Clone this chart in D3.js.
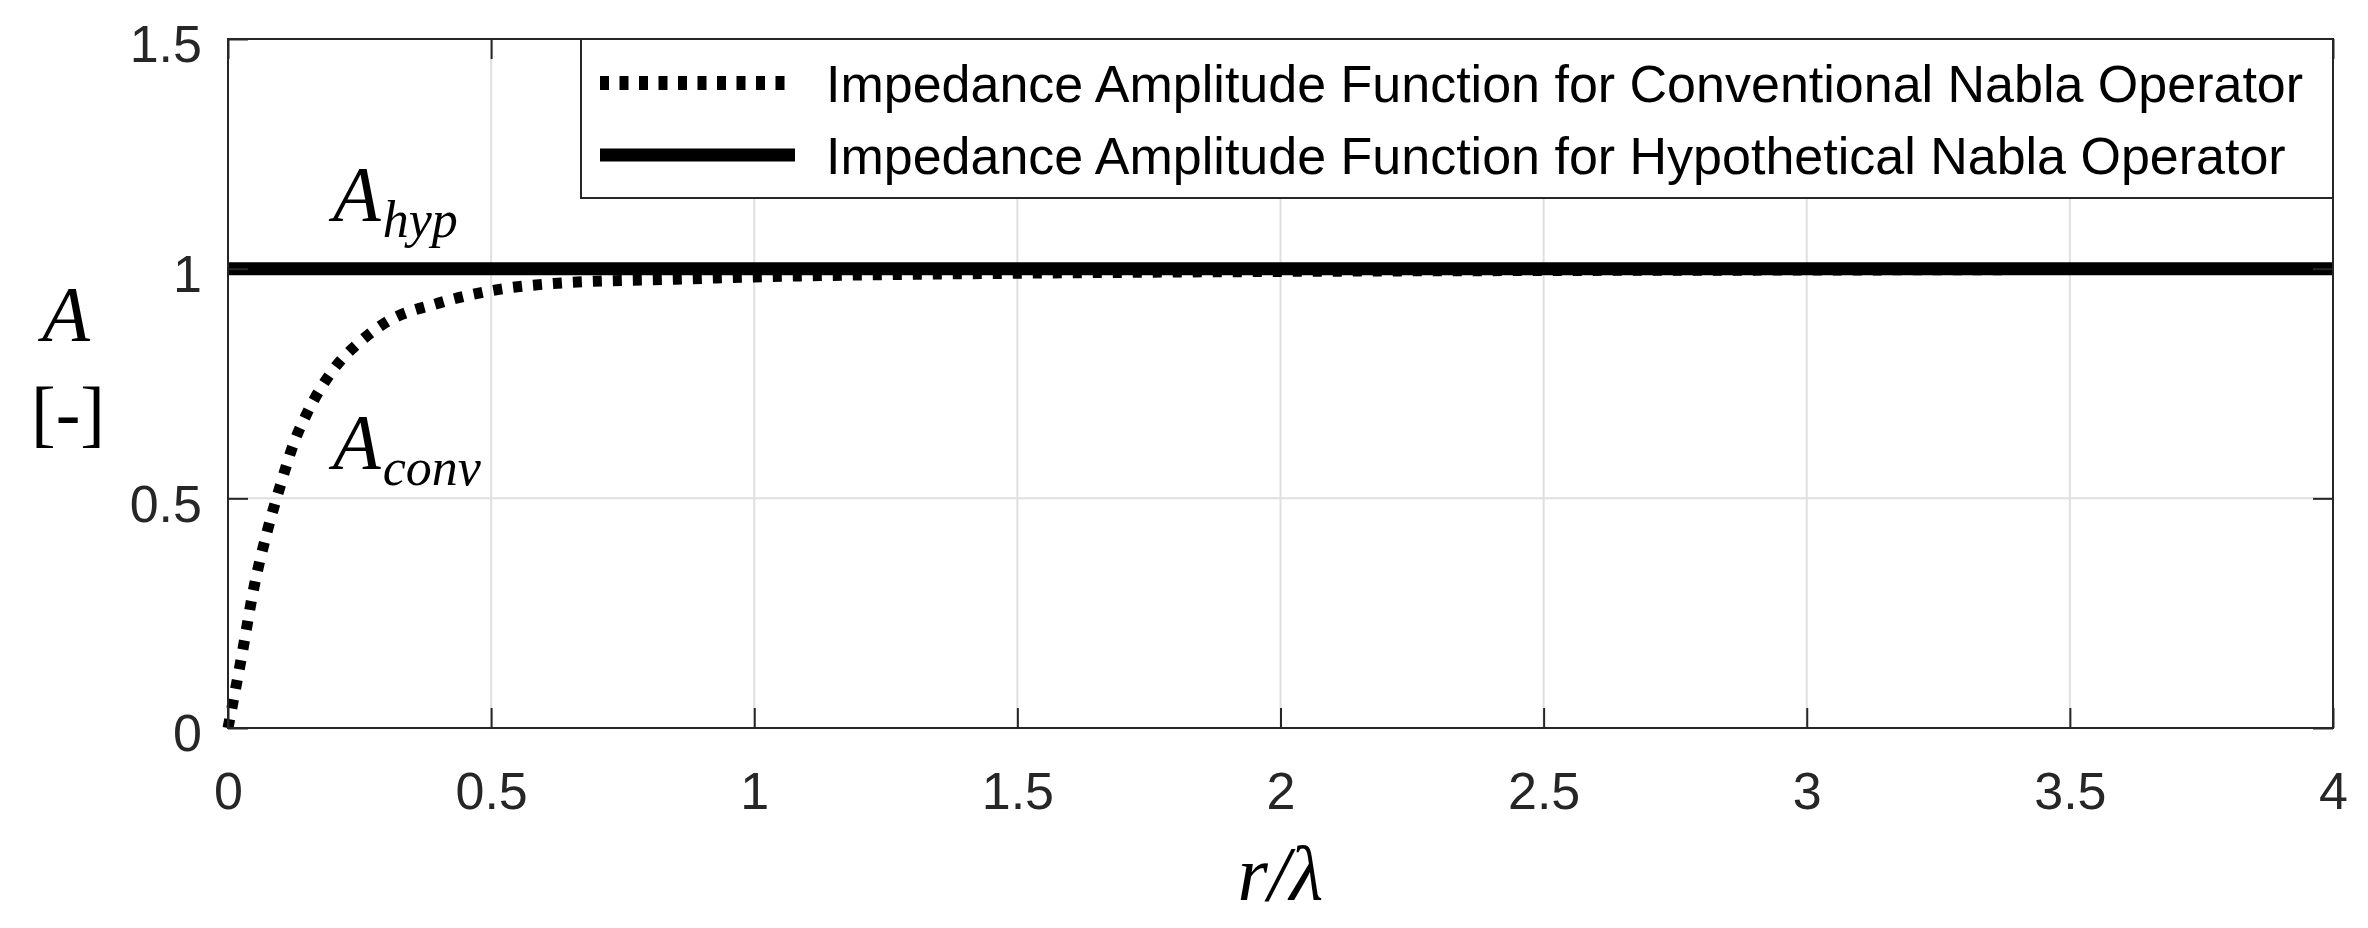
<!DOCTYPE html>
<html>
<head>
<meta charset="utf-8">
<script src="https://cdn.jsdelivr.net/npm/d3@7"></script>
<style>
  html, body { margin: 0; padding: 0; background: #fff; }
  svg { display: block; }
</style>
</head>
<body>
<svg id="chart" width="2368" height="928"></svg>
<script>
// values
const rValues = [0, 0.025, 0.05, 0.075, 0.1, 0.125, 0.15, 0.2, 0.25, 0.3, 0.4, 0.5, 0.65, 0.85, 1.0, 1.25, 1.5, 2, 2.5, 3, 3.5, 4];
const aConv   = [0, 0.15, 0.31, 0.43, 0.53, 0.62, 0.685, 0.78, 0.84, 0.883, 0.925, 0.952, 0.97, 0.977, 0.982, 0.987, 0.99, 0.994, 0.996, 0.997, 0.998, 0.998];
const rHyp = [0, 4];
const aHyp = [1, 1];

const xTicks = [0, 0.5, 1, 1.5, 2, 2.5, 3, 3.5, 4];
const yTicks = [0, 0.5, 1, 1.5];
const legendLabels = [
  "Impedance Amplitude Function for Conventional Nabla Operator",
  "Impedance Amplitude Function for Hypothetical Nabla Operator"
];

const plotLeft = 228, plotRight = 2333, plotTop = 39, plotBottom = 728;
const axisColor = "#262626";
const gridColor = "#dfdfdf";
const sans = "Liberation Sans, Arial, sans-serif";
const serif = "Liberation Serif, Times New Roman, serif";

const svg = d3.select("#chart");

const x = d3.scaleLinear().domain([0, 4]).range([plotLeft, plotRight]);
const y = d3.scaleLinear().domain([0, 1.5]).range([plotBottom, plotTop]);

// grid
const grid = svg.append("g");
grid.selectAll(".gx")
  .data(xTicks.slice(1, -1))
  .join("line")
  .attr("x1", d => x(d)).attr("x2", d => x(d))
  .attr("y1", plotTop).attr("y2", plotBottom)
  .attr("stroke", gridColor).attr("stroke-width", 2);
grid.selectAll(".gy")
  .data(yTicks.slice(1, -1))
  .join("line")
  .attr("y1", d => y(d)).attr("y2", d => y(d))
  .attr("x1", plotLeft).attr("x2", plotRight)
  .attr("stroke", gridColor).attr("stroke-width", 2);

// data lines
const conv = rValues.map((r, i) => [r, aConv[i]]);
const hyp = rHyp.map((r, i) => [r, aHyp[i]]);

const line = d3.line()
  .x(d => x(d[0]))
  .y(d => y(d[1]))
  .curve(d3.curveMonotoneX);

svg.append("path")
  .datum(conv)
  .attr("d", line)
  .attr("fill", "none")
  .attr("stroke", "#000")
  .attr("stroke-width", 11)
  .attr("stroke-dasharray", "9 11");

svg.append("path")
  .datum(hyp)
  .attr("d", line)
  .attr("fill", "none")
  .attr("stroke", "#000")
  .attr("stroke-width", 13);

// axes (ticks inside, box on)
const styleAxis = g => {
  g.select(".domain").remove();
  g.selectAll(".tick line").attr("stroke", axisColor).attr("stroke-width", 2);
  g.selectAll("text")
    .attr("fill", axisColor)
    .style("font-family", sans)
    .style("font-size", "52px");
};

svg.append("g")
  .attr("transform", `translate(0,${plotBottom})`)
  .call(d3.axisBottom(x).tickValues(xTicks).tickSizeInner(-20).tickSizeOuter(0).tickFormat(d => d))
  .call(styleAxis)
  .call(g => g.selectAll("text").attr("y", 81).attr("dy", null));

svg.append("g")
  .attr("transform", `translate(${plotLeft},0)`)
  .call(d3.axisLeft(y).tickValues(yTicks).tickSizeInner(-20).tickSizeOuter(0).tickFormat(d => d))
  .call(styleAxis)
  .call(g => g.selectAll("text").attr("x", -26).attr("dy", "0.44em"));

svg.append("g")
  .attr("transform", `translate(0,${plotTop})`)
  .call(d3.axisTop(x).tickValues(xTicks).tickSizeInner(-20).tickSizeOuter(0).tickFormat(""))
  .call(styleAxis);

svg.append("g")
  .attr("transform", `translate(${plotRight},0)`)
  .call(d3.axisRight(y).tickValues(yTicks).tickSizeInner(-20).tickSizeOuter(0).tickFormat(""))
  .call(styleAxis);

svg.append("rect")
  .attr("x", plotLeft).attr("y", plotTop)
  .attr("width", plotRight - plotLeft).attr("height", plotBottom - plotTop)
  .attr("fill", "none")
  .attr("stroke", axisColor)
  .attr("stroke-width", 2);

// axis labels
svg.append("text")
  .attr("x", 66).attr("y", 340)
  .attr("text-anchor", "middle")
  .style("font-family", serif).style("font-style", "italic").style("font-size", "78px")
  .text("A");
svg.append("text")
  .attr("x", 68).attr("y", 438)
  .attr("text-anchor", "middle")
  .style("font-family", serif).style("font-size", "74px")
  .text("[-]");
svg.append("text")
  .attr("x", (plotLeft + plotRight) / 2).attr("y", 900)
  .attr("text-anchor", "middle")
  .style("font-family", serif).style("font-style", "italic").style("font-size", "78px")
  .text("r/λ");

// curve annotations
const annotate = (px, py, sub) => {
  const t = svg.append("text")
    .attr("x", px).attr("y", py)
    .style("font-family", serif).style("font-style", "italic")
    .style("font-size", "78px");
  t.append("tspan").text("A");
  t.append("tspan").attr("dx", 2).attr("dy", 17).style("font-size", "52px").text(sub);
};
annotate(333, 220, "hyp");
annotate(333, 468, "conv");

// legend
const legend = svg.append("g");
legend.append("rect")
  .attr("x", 581).attr("y", plotTop)
  .attr("width", plotRight - 581).attr("height", 198 - plotTop)
  .attr("fill", "#fff")
  .attr("stroke", axisColor)
  .attr("stroke-width", 2);

const rowY = [83, 155];
legend.append("line")
  .attr("x1", 600).attr("x2", 795)
  .attr("y1", rowY[0]).attr("y2", rowY[0])
  .attr("stroke", "#000").attr("stroke-width", 14)
  .attr("stroke-dasharray", "9 10.5");
legend.append("line")
  .attr("x1", 600).attr("x2", 795)
  .attr("y1", rowY[1]).attr("y2", rowY[1])
  .attr("stroke", "#000").attr("stroke-width", 13);

legend.selectAll(".lt")
  .data(legendLabels)
  .join("text")
  .attr("x", 826)
  .attr("y", (d, i) => rowY[i] + 19)
  .style("font-family", sans)
  .style("font-size", "52px")
  .attr("fill", "#000")
  .text(d => d);
</script>
</body>
</html>
